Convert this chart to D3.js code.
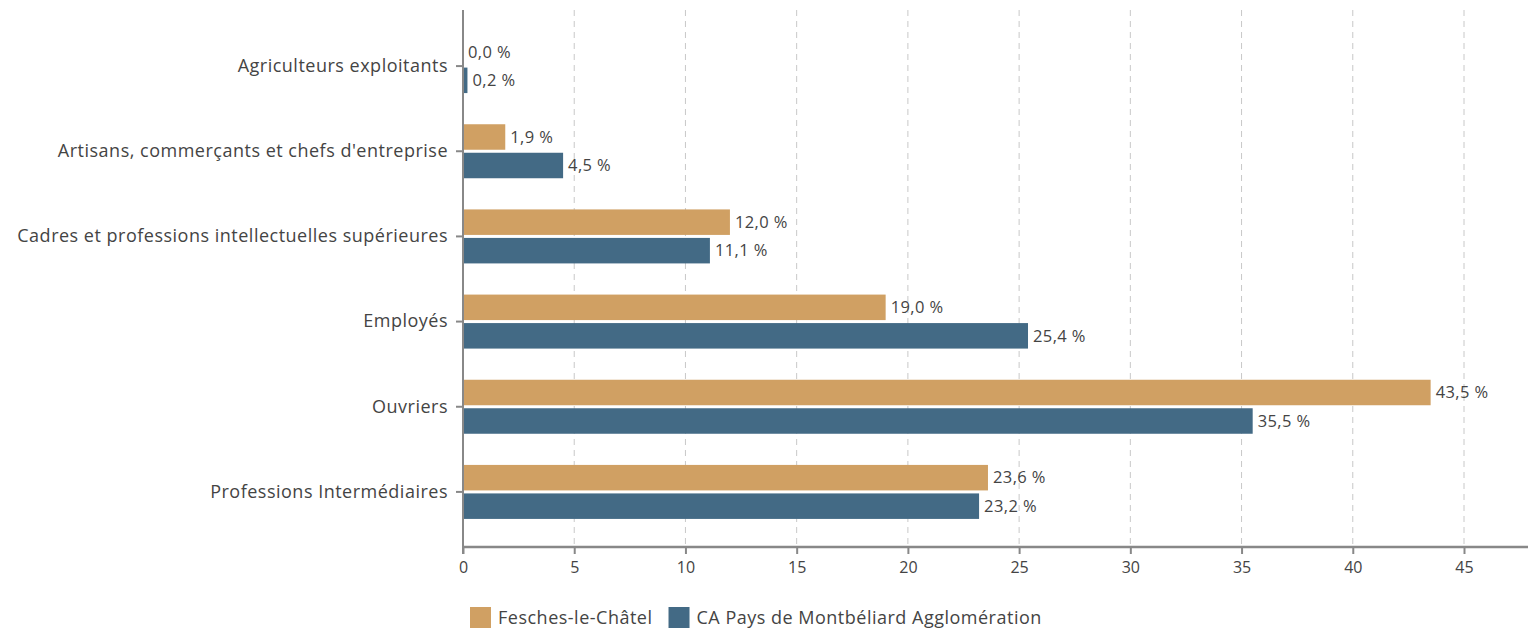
<!DOCTYPE html>
<html>
<head>
<meta charset="utf-8">
<script src="https://cdn.jsdelivr.net/npm/d3@7"></script>
<style>
  body { margin: 0; background: #fff; }
  text { font-family: "Open Sans", "Noto Sans", sans-serif; fill: #444; }
</style>
</head>
<body>
<svg id="chart" width="1528" height="636"></svg>
<script>
// categories and values
const categories = ["Agriculteurs exploitants", "Artisans, commerçants et chefs d'entreprise",
  "Cadres et professions intellectuelles supérieures", "Employés", "Ouvriers", "Professions Intermédiaires"];
const fesches = [0.0, 1.9, 12.0, 19.0, 43.5, 23.6];
const capma = [0.2, 4.5, 11.1, 25.4, 35.5, 23.2];
const seriesNames = ["Fesches-le-Châtel", "CA Pays de Montbéliard Agglomération"];
const colors = ["#D0A063", "#436A85"];
const xTicks = [0, 5, 10, 15, 20, 25, 30, 35, 40, 45];

const svg = d3.select("#chart");
const left = 463, axisY = 547;

let x = d3.scaleLinear().domain([0, 45]).range([left, 1464]);
let y = d3.scaleBand().domain(categories).range([23.5, 534.5]);

// dashed gridlines
svg.append("g").selectAll("line")
    .data(xTicks.slice(1))
    .enter().append("line")
    .attr("x1", d => x(d)).attr("x2", d => x(d))
    .attr("y1", 10).attr("y2", axisY)
    .attr("stroke", "#c8c8c8")
    .attr("stroke-dasharray", "6,5")
    .attr("stroke-width", 1);

// bars
let rows = categories.map((c, i) => ({ cat: c, vals: [fesches[i], capma[i]] }));
let barH = 25.5;
rows.forEach(function (r) {
    let cy = y(r.cat) + y.bandwidth() / 2;
    r.vals.forEach(function (v, k) {
        let top = k == 0 ? cy - 1.5 - barH : cy + 1.5;
        svg.append("rect")
            .attr("x", x(0))
            .attr("y", top)
            .attr("width", Math.max(0, x(v) - x(0)))
            .attr("height", barH)
            .attr("fill", colors[k]);
        svg.append("text")
            .attr("x", x(v) + 5)
            .attr("y", top + barH / 2)
            .attr("dy", "0.35em")
            .attr("font-size", "16.5px")
            .attr("letter-spacing", "0.4px")
            .text(d3.format(".1f")(v).replace(".", ",") + " %");
    });
});

// x axis
let xAxis = svg.append("g")
    .attr("transform", "translate(0," + axisY + ")")
    .call(d3.axisBottom(x).tickValues(xTicks).tickSize(7).tickPadding(8));
xAxis.select(".domain").remove();
xAxis.selectAll(".tick line").attr("stroke", "#888").attr("stroke-width", 2);
xAxis.selectAll(".tick text").attr("font-size", "16px").style("font-family", "'Open Sans', sans-serif").attr("fill", "#444");
svg.append("line")
    .attr("x1", left - 1).attr("x2", 1528)
    .attr("y1", axisY).attr("y2", axisY)
    .attr("stroke", "#888").attr("stroke-width", 2.5);

// y axis
let yAxis = svg.append("g")
    .attr("transform", "translate(" + left + ",0)")
    .call(d3.axisLeft(y).tickSize(7).tickPadding(8));
yAxis.select(".domain").remove();
yAxis.selectAll(".tick line").attr("stroke", "#888").attr("stroke-width", 2);
yAxis.selectAll(".tick text").attr("font-size", "18px").attr("letter-spacing", "0.5px")
    .style("font-family", "'Open Sans', sans-serif").attr("fill", "#444");
svg.append("line")
    .attr("x1", left).attr("x2", left)
    .attr("y1", 10).attr("y2", axisY + 7)
    .attr("stroke", "#888").attr("stroke-width", 2);

// legend
let lx = 470;
seriesNames.forEach(function (n, k) {
    let g = svg.append("g").attr("transform", "translate(" + lx + ",607)");
    g.append("rect").attr("width", 21).attr("height", 21).attr("fill", colors[k]);
    let t = g.append("text").attr("x", 28).attr("y", 10.5).attr("dy", "0.35em")
        .attr("font-size", "18px").attr("letter-spacing", "0.5px").text(n);
    lx += 28 + t.node().getComputedTextLength() + 16;
});
</script>
</body>
</html>
